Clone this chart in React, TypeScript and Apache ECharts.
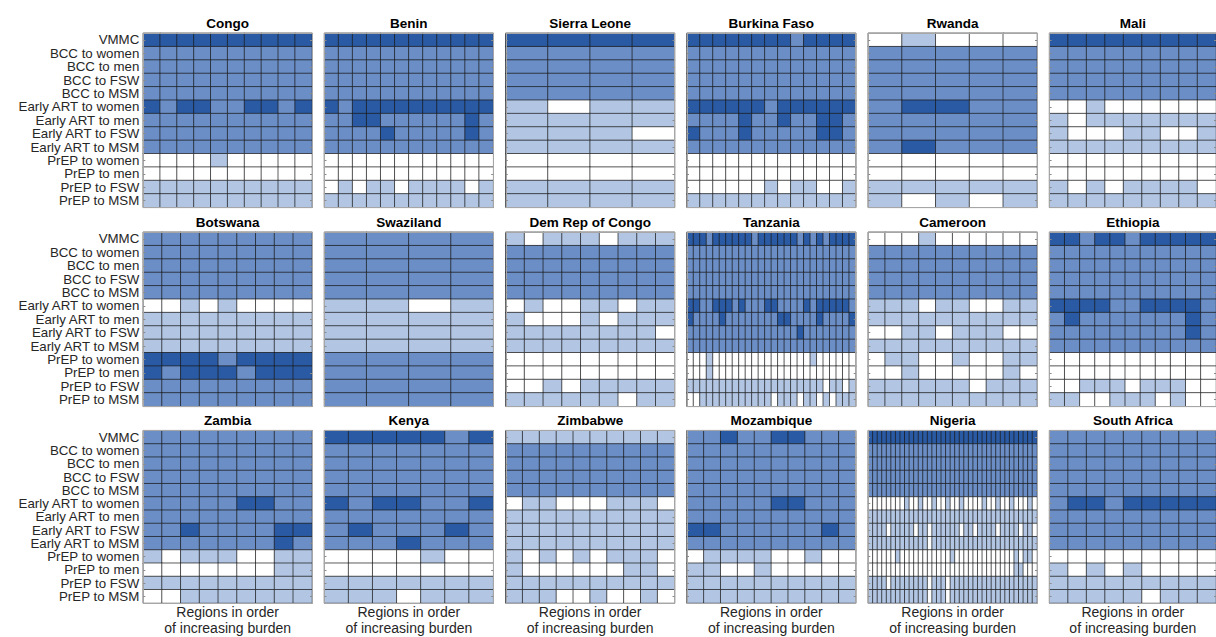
import React, { useEffect, useRef } from "react";
import * as echarts from "echarts";

const ROW_LABELS = [
  "VMMC",
  "BCC to women",
  "BCC to men",
  "BCC to FSW",
  "BCC to MSM",
  "Early ART to women",
  "Early ART to men",
  "Early ART to FSW",
  "Early ART to MSM",
  "PrEP to women",
  "PrEP to men",
  "PrEP to FSW",
  "PrEP to MSM",
];

const COUNTRIES = [
  "Congo", "Benin", "Sierra Leone", "Burkina Faso", "Rwanda", "Mali",
  "Botswana", "Swaziland", "Dem Rep of Congo", "Tanzania", "Cameroon", "Ethiopia",
  "Zambia", "Kenya", "Zimbabwe", "Mozambique", "Nigeria", "South Africa",
];

// level per region: 0 = white, 1 = light, 2 = medium, 3 = dark
const CONGO = [
  "3333333333", "2222222222", "2222222222", "2222222222", "2222222222",
  "3233223323", "2222222222", "2222222222", "2222222222",
  "0000100000", "0000000000", "1111111111", "1111111111",
];
const BENIN = [
  "333333333333", "222222222222", "222222222222", "222222222222", "222222222222",
  "323333333333", "223322222232", "222232222232", "222222222222",
  "000000000000", "000000000000", "010110111101", "111111111111",
];
const SIERRA_LEONE = [
  "3333", "2222", "2222", "2222", "2222",
  "1011", "1111", "1110", "1111",
  "0000", "0000", "1111", "1111",
];
const BURKINA_FASO = [
  "3333333323333", "2222222222222", "2222222222222", "2222222222222", "2222222222222",
  "3333332333333", "2222322322332", "3222322222332", "2222222222222",
  "0000000000000", "0000000000000", "0000001011001", "1111111111111",
];
const RWANDA = [
  "01000", "22222", "22222", "22222", "22222",
  "23322", "22222", "22222", "23222",
  "00000", "00000", "11111", "10101",
];
const MALI = [
  "333333333", "222222222", "222222222", "222222222", "222222222",
  "001000000", "101111111", "100011001", "111111111",
  "000000000", "000000000", "101011110", "111111111",
];
const BOTSWANA = [
  "222222222", "222222222", "222222222", "222222222", "222222222",
  "001010000", "111111111", "111111111", "111111111",
  "333323333", "323332333", "222222222", "222222222",
];
const SWAZILAND = [
  "2222", "2222", "2222", "2222", "2222",
  "1101", "1111", "1111", "1111",
  "2222", "2222", "2222", "2222",
];
const DEM_REP_CONGO = [
  "101110111", "222222222", "222222222", "222222222", "222222222",
  "010011011", "100010111", "111111110", "111111111",
  "000000000", "000000000", "001011111", "111111011",
];
const TANZANIA = [
  "33323333332333333232323333",
  "22222222222222222222222222",
  "22222222222222222222222222",
  "22222222222222222222222222",
  "22222222222222222222222222",
  "33223332322233222232333332",
  "32222322222222332222322223",
  "22222222222222222322222222",
  "22222222222222222222222222",
  "00010000000000000001000000",
  "00010000000000000000000000",
  "11111111111111111111101101",
  "00111111111110111011010111",
];
const CAMEROON = [
  "0001000000", "2222222222", "2222222222", "2222222222", "2222222222",
  "1110110011", "1111111111", "0011011100", "1111111111",
  "0110010011", "0010000010", "1111110111", "1111111111",
];
const ETHIOPIA = [
  "33233233333", "22222222222", "22222222222", "22222222222", "22222222222",
  "33332233332", "23222222232", "22222222232", "22222222222",
  "00000000000", "00000000000", "00111011100", "11001110100",
];
const ZAMBIA = [
  "222222222", "222222222", "222222222", "222222222", "222222222",
  "222223322", "222222222", "223222233", "222222232",
  "101110011", "000000011", "111111111", "001111111",
];
const KENYA = [
  "3333323", "2222222", "2222222", "2222222", "2222222",
  "3233223", "2222222", "2322232", "2223222",
  "0000100", "0000000", "1111111", "1110111",
];
const ZIMBABWE = [
  "1111111111", "2222222222", "2222222222", "2222222222", "2222222222",
  "0110001110", "1111111111", "1111111111", "1111111111",
  "1010101110", "1000000110", "1111111111", "1110010010",
];
const MOZAMBIQUE = [
  "2232233222", "2222222222", "2222222222", "2222222222", "2222222222",
  "2222233222", "2222222222", "3322222232", "2222222222",
  "0111100100", "1100100000", "1111111111", "1111111111",
];
const NIGERIA = [
  "3333333333333333333333333333333333333",
  "2222222222222222222222222222222222222",
  "2222222222222222222222222222222222222",
  "2222222222222222222222222222222222222",
  "2222222222222222222222222222222222222",
  "0000000010010010010010000100100100010",
  "1111111111111111111111111111111111111",
  "1111011111011011111101101111011110110",
  "1111111111111011111111111111111111111",
  "0000001000000000001000000000000010110",
  "0000000000000000000000000000000011000",
  "1111011111111011101111111111111111111",
  "1111111111111011101111111111111111111",
];
const SOUTH_AFRICA = [
  "222222222", "222222222", "222222222", "222222222", "222222222",
  "233233333", "222222222", "222222222", "222222222",
  "000000000", "101010000", "111111111", "111110111",
];

const PANEL_DATA = [
  CONGO, BENIN, SIERRA_LEONE, BURKINA_FASO, RWANDA, MALI,
  BOTSWANA, SWAZILAND, DEM_REP_CONGO, TANZANIA, CAMEROON, ETHIOPIA,
  ZAMBIA, KENYA, ZIMBABWE, MOZAMBIQUE, NIGERIA, SOUTH_AFRICA,
];

const LEVEL_COLORS = ["#ffffff", "#b2c6e3", "#6b8ec6", "#2a5aa3"];
const X_NAME = "Regions in order\nof increasing burden";

// layout (pixels)
const GRID_LEFTS = [143.3, 324.5, 505.8, 687.0, 868.3, 1049.6];
const GRID_TOPS = [33.3, 232.3, 430.7];
const GRID_W = 168.7;
const GRID_H = 174;
const FONT = "'Liberation Sans', Arial, Helvetica, sans-serif";

function buildOption() {
  const grid: any[] = [];
  const xAxis: any[] = [];
  const yAxis: any[] = [];
  const series: any[] = [];
  const boxLine = { show: true, lineStyle: { color: "#a6a6a6", width: 1 } };

  PANEL_DATA.forEach((rows, i) => {
    const r = Math.floor(i / 6);
    const c = i % 6;
    const nCols = rows[0].length;
    const cols = Array.from({ length: nCols }, (_, k) => String(k + 1));
    grid.push({ left: GRID_LEFTS[c], top: GRID_TOPS[r], width: GRID_W, height: GRID_H, show: false });

    xAxis.push({
      gridIndex: i,
      type: "category",
      data: cols,
      position: "bottom",
      axisLine: boxLine,
      axisTick: { show: false },
      axisLabel: { show: false },
      splitLine: { show: false },
      z: 10,
      name: r === 2 ? X_NAME : "",
      nameLocation: "middle",
      nameGap: 1,
      nameTextStyle: { fontSize: 14, lineHeight: 16, color: "#262626", fontFamily: FONT },
    });
    xAxis.push({
      gridIndex: i,
      type: "category",
      data: cols,
      position: "top",
      axisLine: boxLine,
      axisTick: { show: false },
      axisLabel: { show: false },
      splitLine: { show: false },
      z: 10,
      name: COUNTRIES[i],
      nameLocation: "middle",
      nameGap: 3,
      nameTextStyle: { fontSize: 13.5, fontWeight: "bold", color: "#000000", fontFamily: FONT },
    });
    yAxis.push({
      gridIndex: i,
      type: "category",
      data: ROW_LABELS,
      inverse: true,
      position: "left",
      axisLine: boxLine,
      axisTick: { show: true, inside: true, alignWithLabel: true, length: 2, lineStyle: { color: "#8a8a8a" } },
      axisLabel: {
        show: c === 0,
        interval: 0,
        fontSize: 13.3,
        lineHeight: 13,
        color: "#262626",
        margin: 4,
        fontFamily: FONT,
      },
      splitLine: { show: false },
      z: 10,
    });
    yAxis.push({
      gridIndex: i,
      type: "category",
      data: ROW_LABELS,
      inverse: true,
      position: "right",
      axisLine: boxLine,
      axisTick: { show: true, inside: true, alignWithLabel: true, length: 2, lineStyle: { color: "#8a8a8a" } },
      axisLabel: { show: false },
      splitLine: { show: false },
      z: 10,
    });

    const data: number[][] = [];
    rows.forEach((row, y) => {
      for (let x = 0; x < row.length; x++) data.push([x, y, Number(row[x])]);
    });
    series.push({
      type: "heatmap",
      xAxisIndex: 2 * i,
      yAxisIndex: 2 * i,
      data,
      itemStyle: { borderColor: "rgba(25,25,25,0.7)", borderWidth: 1 },
      emphasis: { disabled: true },
      progressive: 0,
    });
  });

  return {
    animation: false,
    backgroundColor: "#ffffff",
    grid,
    xAxis,
    yAxis,
    visualMap: {
      type: "piecewise",
      show: false,
      dimension: 2,
      seriesIndex: series.map((_, k) => k),
      pieces: LEVEL_COLORS.map((color, v) => ({ value: v, color })),
    },
    series,
  };
}

export default function App() {
  const ref = useRef<HTMLDivElement>(null);
  useEffect(() => {
    if (!ref.current) return;
    const chart = echarts.init(ref.current, null, { renderer: "svg" });
    chart.setOption(buildOption() as any);
    return () => chart.dispose();
  }, []);
  return (
    <div
      ref={ref}
      style={{ position: "fixed", left: 0, top: 0, width: 1216, height: 637, background: "#fff" }}
    />
  );
}
